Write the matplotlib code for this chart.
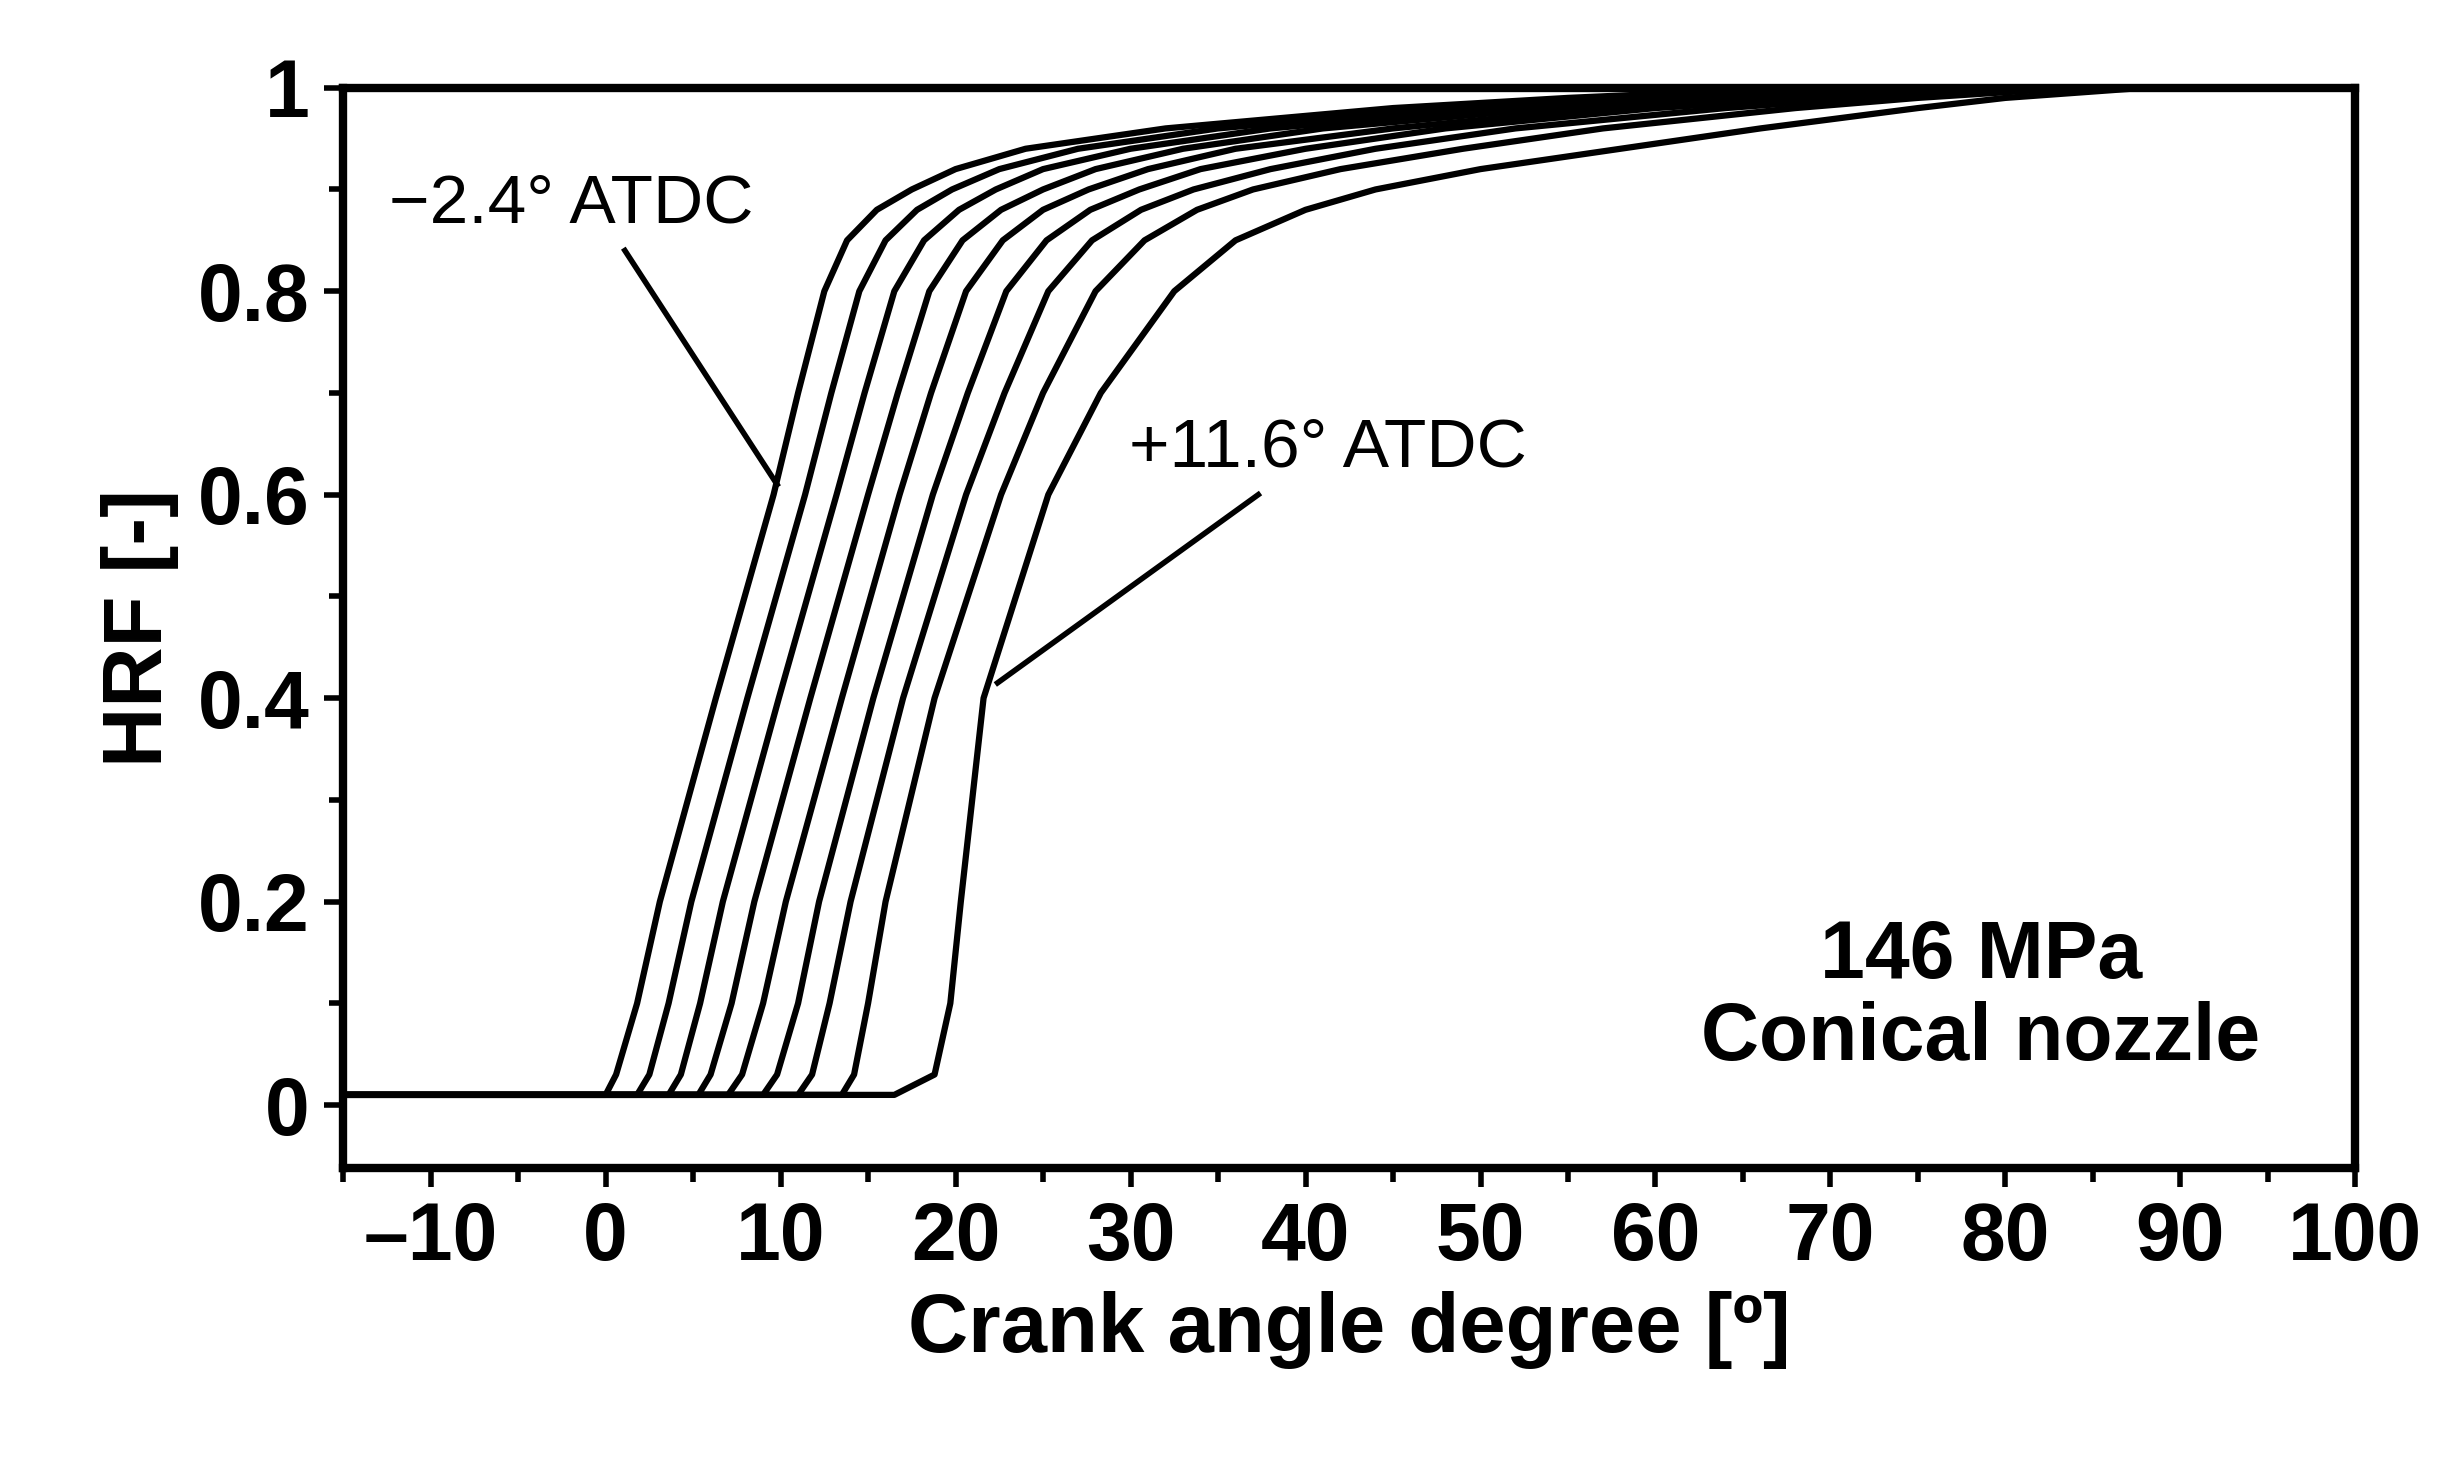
import matplotlib.pyplot as plt
from matplotlib.ticker import MultipleLocator

plt.rcParams['font.family'] = ['Liberation Sans', 'DejaVu Sans']

# HRF levels shared by all curves, crank angle at which each curve reaches them
hrf_levels = [0.01, 0.01, 0.03, 0.1, 0.2, 0.4, 0.6, 0.7, 0.8, 0.85, 0.88, 0.9,
              0.92, 0.94, 0.96, 0.98, 0.99, 1.0, 1.0]
ca_curves = [
    [-15, 0.0, 0.6, 1.8, 3.1, 6.3, 9.6, 11.0, 12.5, 13.8, 15.5, 17.5, 20, 24, 32, 45, 55, 68, 100],
    [-15, 1.8, 2.5, 3.6, 4.9, 8.1, 11.4, 12.9, 14.5, 16.0, 17.8, 19.8, 22.5, 27, 35, 48, 58, 70, 100],
    [-15, 3.6, 4.3, 5.4, 6.7, 9.9, 13.2, 14.8, 16.5, 18.2, 20.2, 22.3, 25, 30, 38, 51, 61, 72, 100],
    [-15, 5.3, 6.0, 7.2, 8.5, 11.7, 15.0, 16.7, 18.5, 20.4, 22.6, 25, 28, 33, 41, 54, 64, 74, 100],
    [-15, 7.0, 7.8, 9.0, 10.3, 13.5, 16.8, 18.6, 20.6, 22.7, 25, 27.6, 31, 36, 45, 57, 66, 76, 100],
    [-15, 9.0, 9.8, 11.0, 12.2, 15.3, 18.7, 20.7, 22.9, 25.2, 27.7, 30.5, 34, 40, 48, 60, 69, 79, 100],
    [-15, 11.0, 11.8, 12.8, 14.0, 17.0, 20.6, 22.8, 25.3, 27.8, 30.6, 33.6, 38, 44, 52, 64, 72, 82, 100],
    [-15, 13.5, 14.2, 15.0, 16.0, 18.8, 22.6, 25.0, 28.0, 30.8, 33.8, 37, 42, 49, 57, 68, 75, 84, 100],
    [-15, 16.5, 18.8, 19.7, 20.3, 21.6, 25.3, 28.3, 32.5, 36, 40, 44, 50, 58, 66, 75, 80, 88, 100],
]

fig = plt.figure(figsize=(24.51, 14.62), dpi=100)
ax = fig.add_axes([0.140, 0.201, 0.821, 0.739])

for ca in ca_curves:
    ax.plot(ca, hrf_levels, color='black', lw=4.5, solid_joinstyle='round')

ax.set_xlim(-15, 100)
ax.set_ylim(-0.062, 1.0)
ax.xaxis.set_minor_locator(MultipleLocator(5))
ax.yaxis.set_minor_locator(MultipleLocator(0.1))
ax.set_yticks([0, 0.2, 0.4, 0.6, 0.8, 1.0])
ax.set_yticklabels(['0', '0.2', '0.4', '0.6', '0.8', '1'])
ax.set_xticks(range(-10, 101, 10))
ax.set_xticklabels(['\u201310'] + [str(v) for v in range(0, 101, 10)])
ax.tick_params(which='both', direction='out', width=4, labelsize=58, pad=10)
ax.tick_params(which='major', length=14)
ax.tick_params(which='minor', length=10)
for lab in ax.get_xticklabels() + ax.get_yticklabels():
    lab.set_fontweight('bold')
for s in ax.spines.values():
    s.set_linewidth(6)

ax.set_xlabel('Crank angle degree [º]', fontsize=60, fontweight='bold', labelpad=10)
ax.set_ylabel('HRF [-]', fontsize=60, fontweight='bold', labelpad=14)

ax.text(-12.4, 0.885, '\u22122.4° ATDC', fontsize=50, va='center', ha='left')
ax.plot([1.1, 9.8], [0.84, 0.61], color='black', lw=4)
ax.text(29.9, 0.645, '+11.6° ATDC', fontsize=50, va='center', ha='left')
ax.plot([37.3, 22.4], [0.60, 0.415], color='black', lw=4)
ax.text(78.6, 0.105, '146 MPa\nConical nozzle', fontsize=58, fontweight='bold',
        ha='center', va='center', linespacing=1.1)

fig.savefig('out.png', dpi=100)
